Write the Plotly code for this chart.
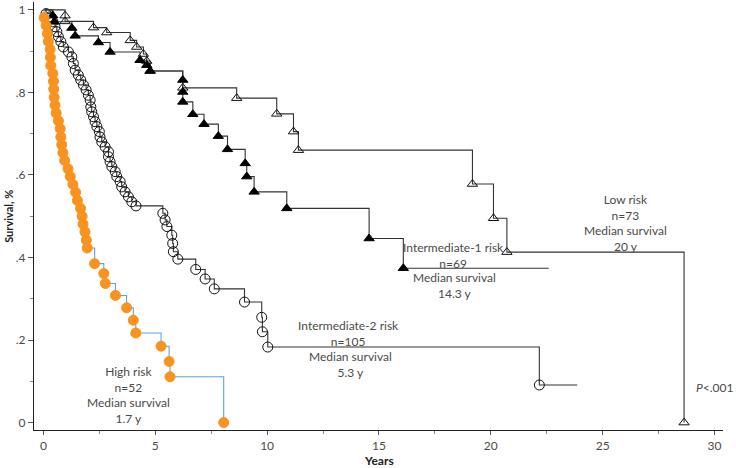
import plotly.graph_objects as go

# Kaplan-Meier estimates: event times (years) and survival
low_t = [0.97, 0.97, 2.24, 2.83, 3.88, 4.17, 4.47, 4.62, 4.77, 6.23, 8.64, 10.43,
         11.18, 11.40, 19.18, 20.12, 20.72, 28.64]
low_s = [.986, .972, .957, .945, .926, .910, .893, .876, .852, .811, .786, .748,
         .705, .660, .578, .495, .413, 0.0]

int1_t = [0.42, 0.49, 1.27, 1.42, 2.46, 2.98, 4.32, 4.62, 4.77, 6.23, 6.23, 6.23,
          6.68, 7.18, 7.82, 8.23, 9.02, 9.09, 9.42, 10.88, 14.56, 16.09]
int1_s = [.986, .971, .956, .937, .921, .898, .878, .866, .852, .830, .801, .777,
          .747, .723, .694, .662, .628, .596, .559, .519, .446, .374]
int1_end = 22.59

int2_t = [0.12, 0.30, 0.42, 0.52, 0.60, 0.67, 0.78, 0.89, 1.12, 1.27, 1.34, 1.42,
          1.56, 1.67, 1.79, 1.91, 2.01, 2.09, 2.12, 2.16, 2.24, 2.31, 2.39, 2.50,
          2.53, 2.61, 2.76, 2.91, 2.91, 2.98, 3.06, 3.21, 3.28, 3.43, 3.50, 3.65,
          3.80, 3.95, 4.14, 5.34, 5.44, 5.52, 5.74, 5.78, 5.81, 6.01, 6.81, 7.23,
          7.64, 8.99, 9.76, 9.79, 10.03, 22.17]
int2_s = [.991, .983, .971, .959, .947, .935, .923, .910, .898, .886, .870, .854,
          .842, .830, .818, .806, .793, .781, .765, .753, .741, .729, .717, .705,
          .692, .680, .668, .656, .644, .632, .620, .608, .596, .584, .571, .559,
          .547, .535, .525, .507, .491, .475, .454, .434, .414, .396, .371, .348,
          .324, .292, .255, .220, .183, .091]
int2_end = 23.86

high_t = [0.03, 0.12, 0.18, 0.22, 0.30, 0.31, 0.33, 0.42, 0.45, 0.46, 0.48, 0.52,
          0.57, 0.67, 0.75, 0.78, 0.82, 0.87, 0.95, 1.10, 1.20, 1.32, 1.44, 1.52,
          1.66, 1.73, 1.77, 1.86, 1.92, 1.96, 2.29, 2.70, 2.77, 3.22, 3.72, 4.02,
          4.13, 5.26, 5.62, 5.66, 8.06]
high_s = [.981, .962, .942, .923, .904, .885, .865, .846, .827, .808, .788, .769,
          .750, .731, .712, .692, .673, .654, .635, .615, .596, .577, .558, .538,
          .519, .500, .481, .462, .442, .423, .385, .361, .337, .308, .278, .248,
          .217, .185, .148, .111, 0.0]

y_ticks = [0, .2, .4, .6, .8, 1]
y_labels = ["0", ".2", ".4", ".6", ".8", "1"]
x_ticks = [0, 5, 10, 15, 20, 25, 30]

FONT = "Lato, 'Open Sans', sans-serif"
TXT = "#4a4a4a"

fig = go.Figure()


def add_curve(t, s, end, line_color, symbol, m_color, m_size, m_line):
    xs = [0] + t
    ys = [1.0] + s
    if end is not None:
        xs = xs + [end]
        ys = ys + [s[-1]]
    fig.add_trace(go.Scatter(x=xs, y=ys, mode="lines", line_shape="hv",
                             line=dict(color=line_color, width=1.1),
                             showlegend=False, hoverinfo="skip"))
    fig.add_trace(go.Scatter(x=t, y=s, mode="markers",
                             marker=dict(symbol=symbol, size=m_size, color=m_color,
                                         line=dict(color=m_line, width=1)),
                             showlegend=False))


add_curve(int2_t, int2_s, int2_end, "#333333", "circle-open", "#111111", 10, "#111111")
add_curve(low_t, low_s, None, "#333333", "triangle-up-open", "#111111", 9, "#111111")
add_curve(int1_t, int1_s, int1_end, "#333333", "triangle-up", "#000000", 9, "#000000")
add_curve(high_t, high_s, None, "#5aa5e3", "circle", "#f7931e", 10, "#f7931e")

notes = [
    (3.80, .068, "High risk<br>n=52<br>Median survival<br>1.7 y"),
    (13.63, .215, "Intermediate-2 risk<br>n=105"),
    (13.71, .140, "Median survival<br>5.3 y"),
    (18.33, .405, "Intermediate-1 risk<br>n=69"),
    (18.36, .333, "Median survival<br>14.3 y"),
    (26.03, .483, "Low risk<br>n=73<br>Median survival<br>20 y"),
]
for x, y, txt in notes:
    fig.add_annotation(x=x, y=y, text=txt, showarrow=False, xanchor="center",
                       yanchor="middle", font=dict(family=FONT, size=12, color=TXT))

# p-value sits at the right edge of the figure
fig.add_annotation(x=1.0, xref="paper", y=.085, text="<i>P</i><.001", showarrow=False,
                   xanchor="right", yanchor="middle", xshift=12,
                   font=dict(family=FONT, size=12, color=TXT))

# axis titles as annotations so the plot area keeps its size
fig.add_annotation(x=0.5, xref="paper", y=-0.072, yref="paper", text="<b>Years</b>",
                   showarrow=False, xanchor="center", yanchor="middle",
                   font=dict(family=FONT, size=12, color="#222"))
fig.add_annotation(x=-0.038, xref="paper", y=0.5, yref="paper", text="<b>Survival, %</b>",
                   showarrow=False, textangle=-90, xanchor="center", yanchor="middle",
                   font=dict(family=FONT, size=11, color="#222"))

fig.update_layout(
    width=736, height=468,
    margin=dict(l=34, r=13, t=2, b=38),
    plot_bgcolor="white", paper_bgcolor="white",
    font=dict(family=FONT, size=12, color=TXT),
    xaxis=dict(range=[-0.42, 30.38], tickvals=x_ticks, ticks="outside", ticklen=4,
               showline=True, linecolor="#222", linewidth=1.2, showgrid=False,
               zeroline=False, tickcolor="#555", automargin=False,
               minor=dict(tickvals=[2.5, 7.5, 12.5, 17.5, 22.5, 27.5], ticks="outside",
                          ticklen=3, tickcolor="#888")),
    yaxis=dict(range=[-0.018, 1.019], tickvals=y_ticks, ticktext=y_labels,
               ticks="outside", ticklen=5, showline=True, linecolor="#222",
               linewidth=1.2, showgrid=False, zeroline=False, tickcolor="#555",
               automargin=False,
               minor=dict(tickvals=[.1, .3, .5, .7, .9], ticks="outside",
                          ticklen=3, tickcolor="#888")),
)

# drop the page's default body margin so the figure fills the window exactly
fig.write_html("out.html", config={"displayModeBar": False},
               post_script="document.body.style.margin='0';")
